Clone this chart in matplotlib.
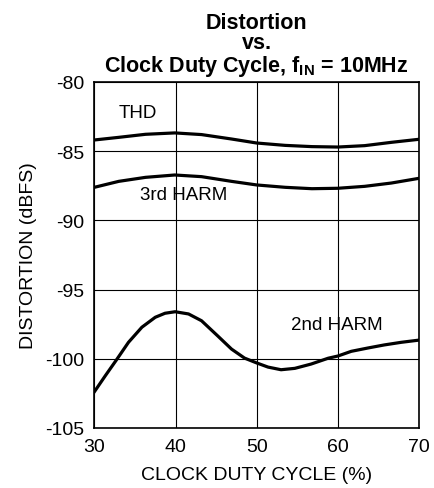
import numpy as np
import matplotlib.pyplot as plt

plt.rcParams['font.family'] = ['Liberation Sans', 'DejaVu Sans']
plt.rcParams['mathtext.fontset'] = 'custom'
plt.rcParams['mathtext.rm'] = 'Liberation Sans'
plt.rcParams['mathtext.bf'] = 'Liberation Sans:bold'
plt.rcParams['axes.unicode_minus'] = False

duty = [30.0, 33.0, 36.3, 39.9, 43.2, 46.9, 50.0, 53.5, 56.8, 60.0, 63.3, 66.6, 70.0]
thd = [-84.19, -84.00, -83.78, -83.68, -83.80, -84.12, -84.41, -84.58, -84.67,
       -84.70, -84.60, -84.36, -84.14]
harm3 = [-87.61, -87.18, -86.89, -86.72, -86.84, -87.18, -87.44, -87.61, -87.71,
         -87.68, -87.54, -87.30, -86.96]

# 2nd HARM curve
duty2 = [30.0, 31.35, 32.8, 34.2, 35.85, 37.5, 38.7, 39.95, 41.6, 43.2, 45.2, 46.9,
         48.5, 50.0, 51.4, 53.0, 54.7, 56.7, 58.8, 60.0, 61.65, 63.7, 65.7, 67.8, 70.0]
harm2 = [-102.38, -101.22, -100.01, -98.81, -97.72, -97.00, -96.71, -96.60, -96.76,
         -97.25, -98.35, -99.30, -99.95, -100.30, -100.60, -100.79, -100.69, -100.38,
         -99.96, -99.80, -99.46, -99.22, -99.00, -98.81, -98.65]

fig = plt.figure(figsize=(4.34, 4.89), dpi=100)
ax = fig.add_axes([0.2175, 0.1227, 0.748, 0.7076])

ax.plot(duty, thd, color='black', linewidth=2.3)
ax.plot(duty, harm3, color='black', linewidth=2.3)
ax.plot(duty2, harm2, color='black', linewidth=2.3)

ax.set_xlim(30, 70)
ax.set_ylim(-105, -80)
ax.set_xticks([30, 40, 50, 60, 70])
ax.set_yticks([-105, -100, -95, -90, -85, -80])
ax.grid(color='black', linewidth=0.8)
ax.tick_params(length=0, labelsize=14, pad=7)
for s in ax.spines.values():
    s.set_linewidth(1.2)

ax.text(35.3, -82.2, 'THD', fontsize=13.5, ha='center', va='center')
ax.text(41.0, -88.1, '3rd HARM', fontsize=13.5, ha='center', va='center')
ax.text(59.9, -97.5, '2nd HARM', fontsize=13.5, ha='center', va='center')

ax.set_xlabel('CLOCK DUTY CYCLE (%)', fontsize=14, labelpad=8)
ax.set_ylabel('DISTORTION (dBFS)', fontsize=14, labelpad=6)
ax.set_title('Distortion\nvs.\nClock Duty Cycle, $\\mathbf{f_{IN}}$ = 10MHz',
             fontsize=15.5, fontweight='bold', pad=8, linespacing=0.98)

fig.savefig('out.png', dpi=100)
